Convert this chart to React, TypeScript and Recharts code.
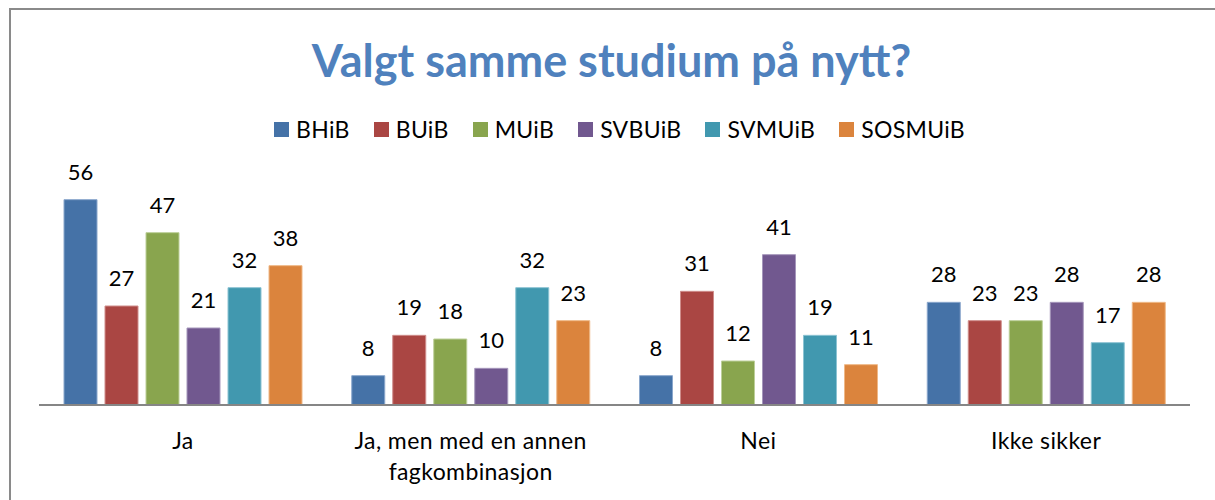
import React from "react";
import { BarChart, Bar, XAxis, YAxis, Legend, LabelList } from "recharts";

const categories = ["Ja", "Ja, men med en annen fagkombinasjon", "Nei", "Ikke sikker"];
const seriesNames = ["BHiB", "BUiB", "MUiB", "SVBUiB", "SVMUiB", "SOSMUiB"];
const BHiB = [56, 8, 8, 28];
const BUiB = [27, 19, 31, 23];
const MUiB = [47, 18, 12, 23];
const SVBUiB = [21, 10, 41, 28];
const SVMUiB = [32, 32, 19, 17];
const SOSMUiB = [38, 23, 11, 28];
const seriesValues = [BHiB, BUiB, MUiB, SVBUiB, SVMUiB, SOSMUiB];
const colors = ["#4572A7", "#AA4643", "#89A54E", "#71588F", "#4198AF", "#DB843D"];
const edgeColors = ["#8aa7cc", "#cf8d8b", "#bccf99", "#a596bb", "#8cc3d3", "#efb887"];

const data = categories.map((c, i) => {
  const row: Record<string, string | number> = { name: c };
  seriesNames.forEach((s, j) => {
    row[s] = seriesValues[j][i];
  });
  return row;
});

const FONT = "Lato, 'Open Sans', sans-serif";

function wrap(label: string, maxChars: number): string[] {
  const words = label.split(" ");
  const lines: string[] = [];
  let cur = "";
  for (const w of words) {
    const next = cur ? cur + " " + w : w;
    if (next.length > maxChars && cur) {
      lines.push(cur);
      cur = w;
    } else {
      cur = next;
    }
  }
  if (cur) lines.push(cur);
  return lines;
}

const CategoryTick = (props: any) => {
  const { x, y, payload } = props;
  const lines = wrap(String(payload.value), 22);
  return (
    <text x={x} y={y} textAnchor="middle" fontFamily={FONT} fontSize={23} letterSpacing={0.4} fill="#000">
      {lines.map((l, i) => (
        <tspan key={i} x={x} y={y + 36 + i * 31}>
          {l}
        </tspan>
      ))}
    </text>
  );
};

const ValueLabel = (props: any) => {
  const { x, y, width, value } = props;
  return (
    <text x={x + width / 2} y={y - 20} textAnchor="middle" fontFamily={FONT} fontSize={22} fill="#000">
      {value}
    </text>
  );
};

const LegendContent = () => (
  <div style={{ display: "flex", justifyContent: "center", alignItems: "center", fontFamily: FONT, fontSize: 23, letterSpacing: 0.3, color: "#000", paddingLeft: 24 }}>
    {seriesNames.map((s, i) => (
      <div key={s} style={{ display: "flex", alignItems: "center", marginLeft: i === 0 ? 0 : 24 }}>
        <span style={{ display: "inline-block", width: 15, height: 15, background: colors[i], marginRight: 7 }} />
        <span>{s}</span>
      </div>
    ))}
  </div>
);

export default function App() {
  return (
    <div style={{ position: "absolute", left: 0, top: 0, width: 1215, height: 500, background: "#fff", overflow: "hidden" }}>
      <div
        style={{
          position: "absolute",
          left: 9,
          top: 8,
          width: 1215,
          height: 500,
          borderLeft: "2px solid #8a8a8a",
          borderTop: "2px solid #8a8a8a",
        }}
      />
      <div
        style={{
          position: "absolute",
          left: 4,
          top: 28,
          width: 1215,
          textAlign: "center",
          fontFamily: FONT,
          fontWeight: 700,
          fontSize: 45,
          color: "#4F81BD",
          lineHeight: "64px",
        }}
      >
        Valgt samme studium på nytt?
      </div>
      <div style={{ position: "absolute", left: 0, top: 0 }}>
        <BarChart
          width={1215}
          height={500}
          data={data}
          margin={{ top: 185, right: 25, bottom: 15, left: 39 }}
          barCategoryGap={25}
          barGap={8}
        >
          <XAxis
            dataKey="name"
            axisLine={{ stroke: "#868686", strokeWidth: 2 }}
            tickLine={false}
            height={80}
            interval={0}
            tick={<CategoryTick />}
          />
          <YAxis hide domain={[0, 60]} />
          <Legend
            verticalAlign="middle"
            align="center"
            layout="horizontal"
            content={<LegendContent />}
            wrapperStyle={{ top: 115, left: 0, width: 1215 }}
          />
          {seriesNames.map((s, i) => (
            <Bar key={s} dataKey={s} fill={colors[i]} stroke={edgeColors[i]} strokeWidth={1} isAnimationActive={false}>
              <LabelList dataKey={s} content={<ValueLabel />} />
            </Bar>
          ))}
        </BarChart>
      </div>
    </div>
  );
}
